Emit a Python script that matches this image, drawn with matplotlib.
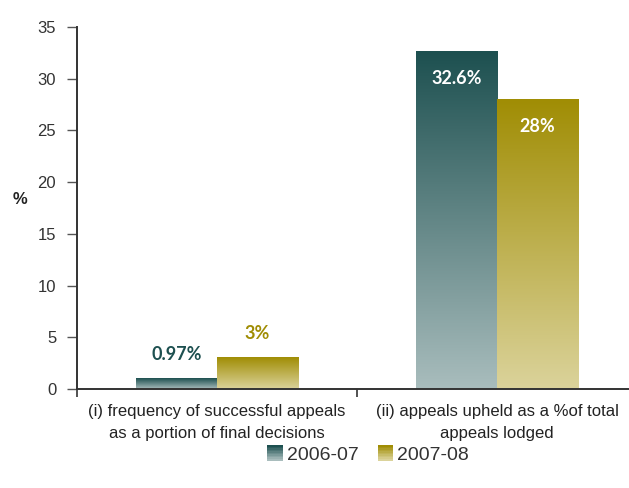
import matplotlib
matplotlib.use('Agg')
import matplotlib.pyplot as plt
import numpy as np
from matplotlib.colors import LinearSegmentedColormap
from matplotlib.patches import Rectangle
from matplotlib.legend_handler import HandlerBase

categories = ['(i) frequency of successful appeals\nas a portion of final decisions',
              '(ii) appeals upheld as a %of total\nappeals lodged']
series = ['2006-07', '2007-08']
vals_0607 = [0.97, 32.6]
vals_0708 = [3, 28]
labels_0607 = ['0.97%', '32.6%']
labels_0708 = ['3%', '28%']

top_cols = ['#1d5050', '#a08d04']
bot_cols = ['#a9bdbd', '#dbd39b']
cmaps = [LinearSegmentedColormap.from_list('g%d' % i, [bot_cols[i], top_cols[i]]) for i in range(2)]


class GradHandler(HandlerBase):
    def __init__(self, idx):
        super().__init__()
        self.idx = idx

    def create_artists(self, legend, orig_handle, xdescent, ydescent, width, height, fontsize, trans):
        n = 10
        arts = []
        side = 11
        x0 = -xdescent + (width - side) / 2
        y0 = -ydescent + (height - side) / 2
        for k in range(n):
            c = cmaps[self.idx](1 - k / (n - 1))
            r = Rectangle((x0, y0 + side * (n - 1 - k) / n), side, side / n + 0.2,
                          facecolor=c, edgecolor='none', transform=trans)
            arts.append(r)
        return arts


fig = plt.figure(figsize=(6.29, 4.88), dpi=100)
ax = fig.add_axes([77 / 629, 99 / 488, 560 / 629, 362 / 488])

width = 0.29
x = np.arange(len(categories))
grad = np.linspace(0, 1, 256).reshape(-1, 1)

for i, (vals, labs) in enumerate([(vals_0607, labels_0607), (vals_0708, labels_0708)]):
    for j in range(len(categories)):
        x0 = x[j] - width + i * width
        ax.imshow(grad, extent=[x0, x0 + width, 0, vals[j]], origin='lower',
                  aspect='auto', cmap=cmaps[i], zorder=2)
        cx = x0 + width / 2
        if vals[j] > 10:
            ax.text(cx, vals[j] - 1.8, labs[j], ha='center', va='top', color='white',
                    fontsize=13, fontweight='bold', family='Lato')
        else:
            ax.text(cx, vals[j] + 1.5, labs[j], ha='center', va='bottom', color=top_cols[i],
                    fontsize=13, fontweight='bold', family='Lato')

ax.set_xlim(-0.5, 1.5)
ax.set_ylim(0, 35)
ax.set_yticks(np.arange(0, 36, 5))
ax.set_xticks([-0.5, 0.5, 1.5])
ax.set_xticklabels([])
ax.set_xticks(x, minor=True)
ax.set_xticklabels(categories, minor=True, fontsize=12, family='Liberation Sans', color='#222222',
                   linespacing=1.6)
ax.tick_params(axis='x', which='minor', length=0, pad=11)
ax.tick_params(axis='x', which='major', length=6, width=1.2, color='#333333')
ax.tick_params(axis='y', length=7, width=1, color='#555555', labelsize=12, labelcolor='#333333', pad=8)
for t in ax.get_yticklabels():
    t.set_family('Liberation Sans')

for s in ['top', 'right']:
    ax.spines[s].set_visible(False)
for s in ['left', 'bottom']:
    ax.spines[s].set_color('#333333')
    ax.spines[s].set_linewidth(1.4)
ax.spines['bottom'].set_zorder(3)

fig.text(20 / 629, 1 - 200 / 488, '%', fontsize=12, fontweight='bold', ha='center', va='center',
         family='Liberation Sans', color='#222222')

h1, h2 = Rectangle((0, 0), 1, 1), Rectangle((0, 0), 1, 1)
leg = fig.legend([h1, h2], series, loc='center', bbox_to_anchor=(368 / 629, 1 - 455 / 488),
                 ncol=2, frameon=False, handler_map={h1: GradHandler(0), h2: GradHandler(1)},
                 prop={'family': 'Liberation Sans', 'size': 14}, handlelength=0.8,
                 handletextpad=0.2, columnspacing=1.0)
for t in leg.get_texts():
    t.set_color('#333333')

fig.savefig('out.png', dpi=100)
